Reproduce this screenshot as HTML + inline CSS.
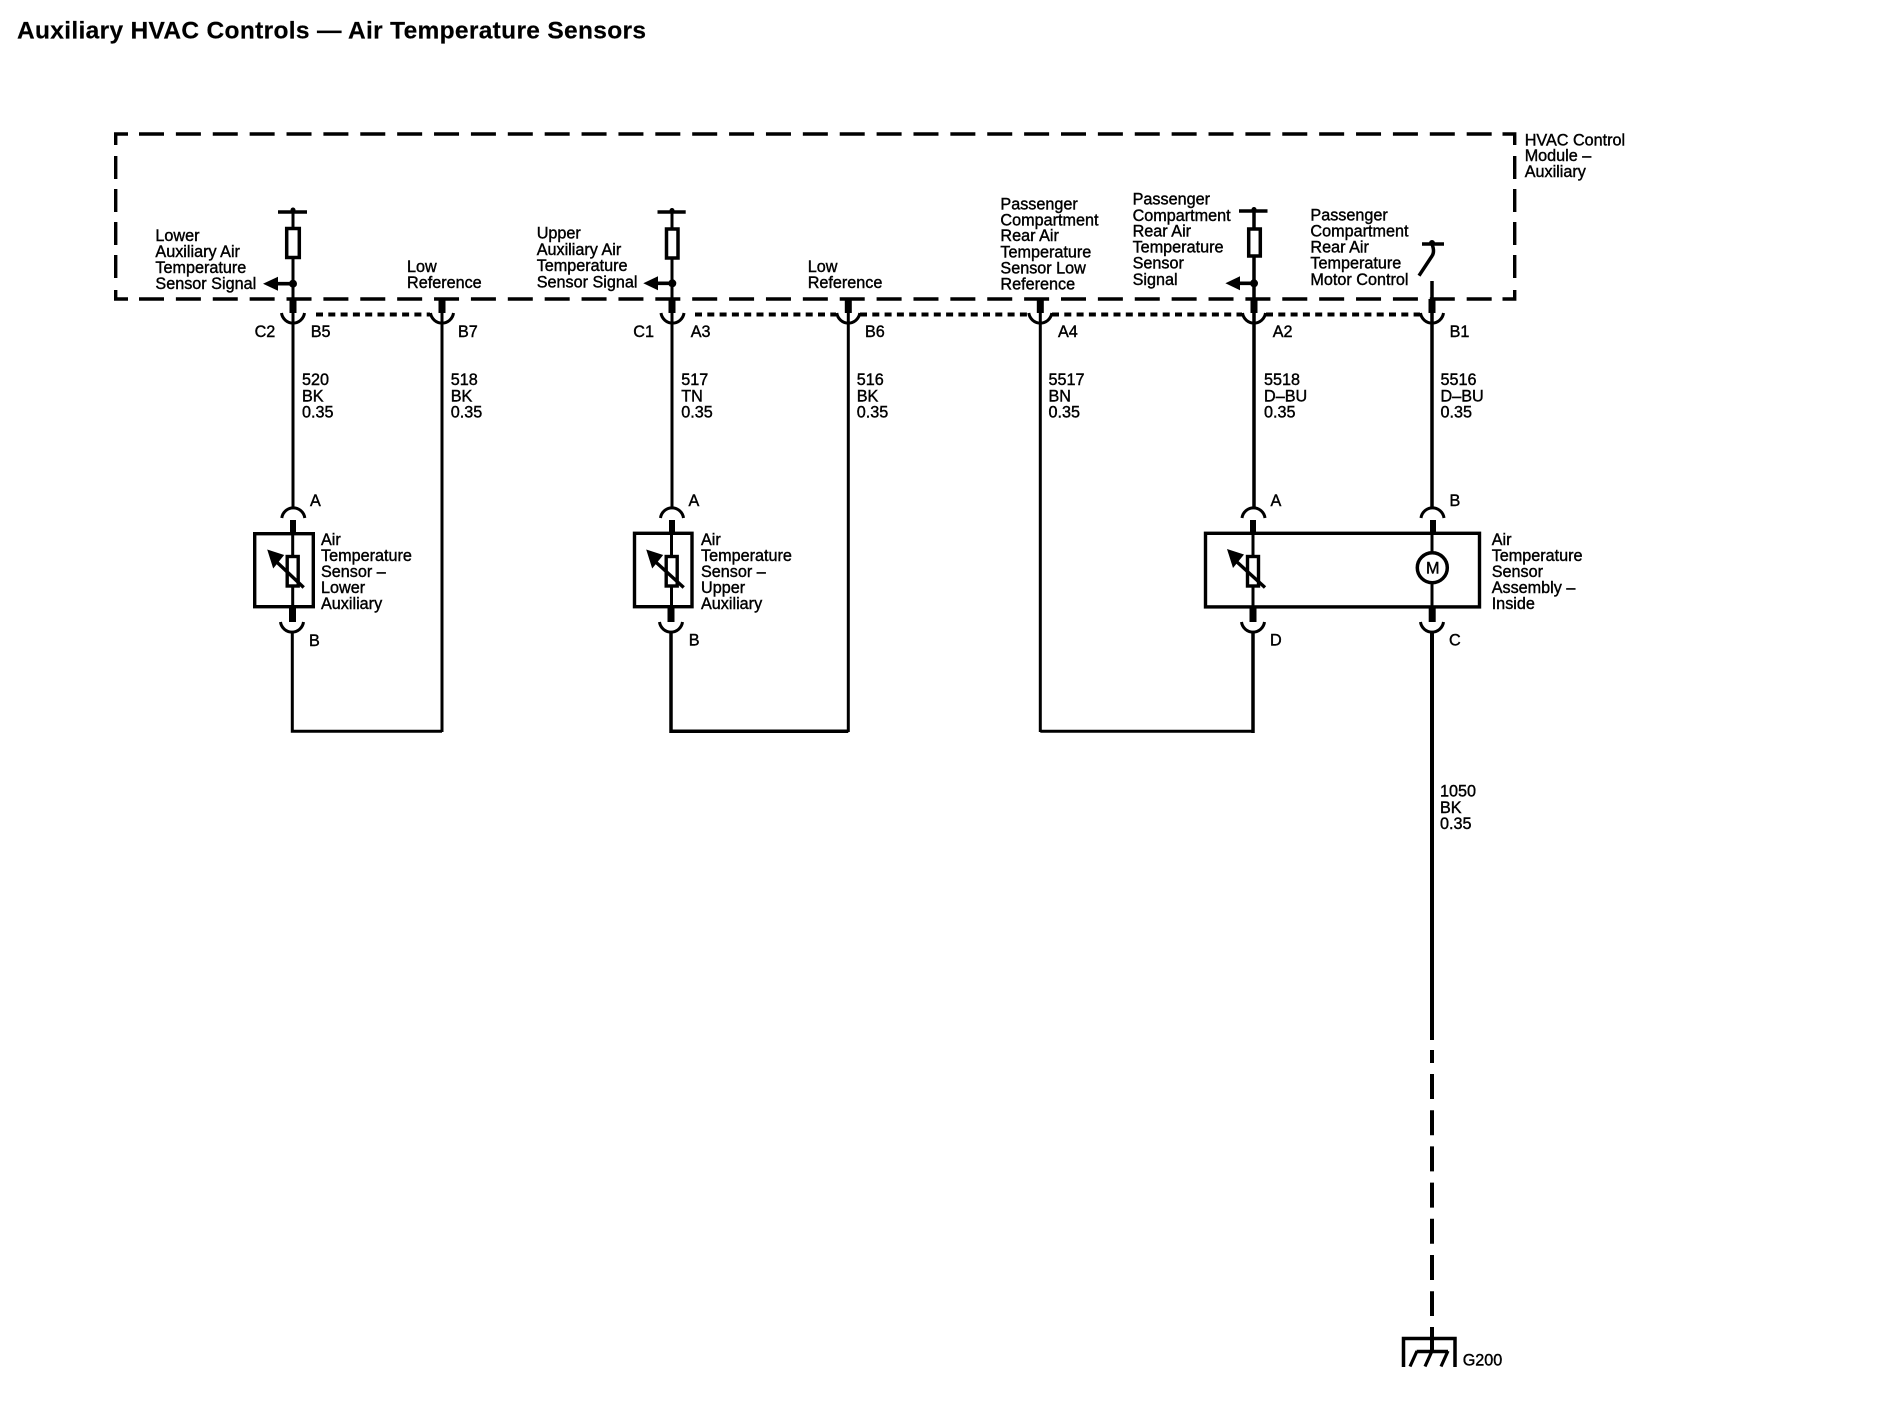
<!DOCTYPE html>
<html>
<head>
<meta charset="utf-8">
<style>
html,body{margin:0;padding:0;background:#fff;width:1892px;height:1408px;overflow:hidden}
svg{display:block}
text{font-family:"Liberation Sans",Arial,sans-serif;font-size:16.2px;fill:#000;stroke:#000;stroke-width:.4px}
.t{font-weight:bold;font-size:24.5px;stroke-width:.2px}
.w{fill:none;stroke:#000;stroke-width:3}
.h{fill:none;stroke:#000;stroke-width:4}
.d{fill:none;stroke:#000;stroke-width:3.4;stroke-dasharray:25 11.88}
.v{fill:none;stroke:#000;stroke-width:3.4;stroke-dasharray:23 10}
.s{fill:none;stroke:#000;stroke-width:4;stroke-dasharray:7 5.3}
.r{fill:#fff;stroke:#000;stroke-width:3.4}
</style>
</head>
<body>
<svg width="1892" height="1408" viewBox="0 0 1892 1408" xmlns="http://www.w3.org/2000/svg">
<rect width="1892" height="1408" fill="#fff"/>
<text class="t" x="17" y="38.7" textLength="629" lengthAdjust="spacing">Auxiliary HVAC Controls — Air Temperature Sensors</text>

<!-- module box -->
<path class="h" style="stroke-width:3.4" d="M128 134H115.7V145M1502.5 134H1514.7V145M115.7 290V299H128M1514.7 290V299H1502.5"/>
<path class="d" d="M139 134H1492M139 299H1492"/>
<path class="v" d="M115.7 156V279M1514.7 156V279"/>

<!-- dotted -->
<path class="s" d="M316 314.5H430M695 314.5H836M860 314.5H1028M1052 314.5H1242M1266 314.5H1420"/>

<!-- vertical wires upper -->
<path class="w" d="M293 209V299M293 313V508"/>
<path class="w" d="M442 313V732"/>
<path class="w" d="M672 209V299M672 313V508"/>
<path class="w" d="M848.3 313V732"/>
<path class="w" d="M1040.3 313V732"/>
<path class="h" style="stroke-width:3.5" d="M1254 209V299M1254 313V508"/>
<path class="h" style="stroke-width:3.5" d="M1432 281V299M1432 313V508"/>

<!-- lower wires -->
<path class="w" d="M292.3 632V731.2H442"/>
<path class="h" style="stroke-width:3.5" d="M671 632V731.2H848.3"/>
<path class="w" d="M1040.3 731.2H1253"/>
<path class="h" style="stroke-width:3.5" d="M1253 632V733"/>
<path class="h" d="M1432 632V1040M1432 1050V1063"/>
<path class="h" style="stroke-dasharray:25 11.2" d="M1432 1074V1316"/>
<path class="h" d="M1432 1327V1352"/>

<!-- top connector stubs -->
<path fill="#000" d="M289.5 299h7v14h-7zM438.5 299h7v14h-7zM668.5 299h7v14h-7zM844.8 299h7v14h-7zM1036.8 299h7v14h-7zM1250.5 299h7v14h-7zM1428.5 299h7v14h-7z"/>
<!-- cups -->
<path class="w" d="M281.5 313A11.6 11.6 0 0 0 304.5 313"/>
<path class="w" d="M430.5 313A11.6 11.6 0 0 0 453.5 313"/>
<path class="w" d="M661 313A11.6 11.6 0 0 0 684 313"/>
<path class="w" d="M836.8 313A11.6 11.6 0 0 0 859.8 313"/>
<path class="w" d="M1028.8 313A11.6 11.6 0 0 0 1051.8 313"/>
<path class="w" d="M1242.5 313A11.6 11.6 0 0 0 1265.5 313"/>
<path class="w" d="M1420.5 313A11.6 11.6 0 0 0 1443.5 313"/>
<!-- component upper arcs -->
<path class="w" d="M281.8 518A11.6 11.6 0 0 1 304.8 518"/>
<path class="w" d="M660.5 518A11.6 11.6 0 0 1 683.5 518"/>
<path class="w" d="M1242 518A11.6 11.6 0 0 1 1265 518"/>
<path class="w" d="M1421 518A11.6 11.6 0 0 1 1444 518"/>
<!-- component lower cups -->
<path class="w" d="M280.5 622A11.6 11.6 0 0 0 303.5 622"/>
<path class="w" d="M659.5 622A11.6 11.6 0 0 0 682.5 622"/>
<path class="w" d="M1241.5 622A11.6 11.6 0 0 0 1264.5 622"/>
<path class="w" d="M1420.5 622A11.6 11.6 0 0 0 1443.5 622"/>

<!-- signal feed tops -->
<path class="h" style="stroke-width:3.5" d="M278 212H307M657.5 212H685.7M1239 211H1267.5"/>
<circle cx="293" cy="210" r="2.5"/><circle cx="672" cy="210.5" r="2.5"/><circle cx="1254" cy="209.5" r="2.5"/>
<rect class="r" style="stroke-width:3.5" x="286.7" y="228.5" width="12.6" height="29"/>
<rect class="r" style="stroke-width:3.5" x="666.5" y="229" width="11.5" height="29"/>
<rect class="r" style="stroke-width:3.5" x="1248.7" y="229" width="11.6" height="27"/>
<circle cx="293" cy="283.7" r="4"/><circle cx="672.3" cy="283.3" r="4"/><circle cx="1254" cy="283.3" r="4"/>
<path class="h" style="stroke-width:3.6" d="M277 283.7H293M656 283.3H672M1238 283.3H1254"/>
<path fill="#000" d="M263 283.7L278 276.7V290.7ZM643.3 283.3L658 276.3V290.3ZM1225.4 283.3L1240 276.3V290.3Z"/>

<!-- switch -->
<path class="h" style="stroke-width:3.5" d="M1422 244H1444"/>
<circle cx="1432" cy="243" r="3"/>
<path class="h" style="stroke-width:3.5" d="M1432 244Q1435 252 1432 256L1419 275.7"/>

<!-- component boxes -->
<rect class="w" style="stroke-width:3.4" x="254.7" y="533.7" width="58.6" height="73"/>
<rect class="w" style="stroke-width:3.4" x="634.5" y="533.3" width="57.5" height="73.4"/>
<rect class="w" style="stroke-width:3.4" x="1205.5" y="533.3" width="274" height="73.6"/>

<!-- component stubs -->
<path fill="#000" d="M290 520h6v14h-6zM669 520h6v14h-6zM1250 520h6v14h-6zM1430 520h6v14h-6zM289 607h7v15h-7zM667.5 607h7v15h-7zM1249.5 607h7v15h-7zM1428.7 607h7v15h-7z"/>
<path class="w" d="M292.7 533V608M671.5 533V608M1253 533V608M1432 533V608"/>

<!-- thermistors -->
<g transform="translate(292.7,0)">
<rect class="r" x="-5.5" y="556.5" width="11" height="29.5"/>
<path class="h" style="stroke-width:3.4" d="M-16 562L11 587.5"/>
<path fill="#000" d="M-25.5 549.5L-8.5 555L-19.5 568.5Z"/>
</g>
<g transform="translate(671.7,0)">
<rect class="r" x="-5.5" y="556.5" width="11" height="29.5"/>
<path class="h" style="stroke-width:3.4" d="M-16 562L12 587.5"/>
<path fill="#000" d="M-25.5 549.5L-8.5 555L-19.5 568.5Z"/>
</g>
<g transform="translate(1253,0)">
<rect class="r" x="-5.5" y="556.5" width="11" height="29.5"/>
<path class="h" style="stroke-width:3.4" d="M-16 562L12 587.5"/>
<path fill="#000" d="M-26 549L-9 554.5L-20 568Z"/>
</g>

<!-- motor -->
<circle cx="1432.3" cy="567.7" r="15" fill="#fff" stroke="#000" stroke-width="3.5"/>
<text x="1426" y="573.3">M</text>

<!-- ground -->
<path class="h" style="stroke-width:3.5" d="M1403.5 1367V1338.5H1455V1367"/>
<path class="h" style="stroke-width:3.5" d="M1416.7 1351.5H1448"/>
<path class="h" style="stroke-width:3.2" d="M1417 1351L1410 1366.5M1432 1351L1425 1366.5M1448 1351L1441 1366.5"/>
<text x="1462.7" y="1365.7">G200</text>

<!-- labels -->
<text x="1524.7" y="145.3">HVAC Control</text>
<text x="1524.7" y="161">Module –</text>
<text x="1524.7" y="177">Auxiliary</text>

<text x="155.4" y="241">Lower</text>
<text x="155.4" y="257">Auxiliary Air</text>
<text x="155.4" y="273">Temperature</text>
<text x="155.4" y="289">Sensor Signal</text>

<text x="407" y="272">Low</text>
<text x="407" y="288">Reference</text>

<text x="536.7" y="238.7">Upper</text>
<text x="536.7" y="255">Auxiliary Air</text>
<text x="536.7" y="271">Temperature</text>
<text x="536.7" y="287.5">Sensor Signal</text>

<text x="807.7" y="272">Low</text>
<text x="807.7" y="288">Reference</text>

<text x="1000.4" y="209.3">Passenger</text>
<text x="1000.4" y="225.5">Compartment</text>
<text x="1000.4" y="241">Rear Air</text>
<text x="1000.4" y="257.3">Temperature</text>
<text x="1000.4" y="273.3">Sensor Low</text>
<text x="1000.4" y="289.5">Reference</text>

<text x="1132.6" y="204.7">Passenger</text>
<text x="1132.6" y="221">Compartment</text>
<text x="1132.6" y="236.7">Rear Air</text>
<text x="1132.6" y="252.7">Temperature</text>
<text x="1132.6" y="268.7">Sensor</text>
<text x="1132.6" y="285">Signal</text>

<text x="1310.4" y="220.7">Passenger</text>
<text x="1310.4" y="236.7">Compartment</text>
<text x="1310.4" y="252.5">Rear Air</text>
<text x="1310.4" y="268.7">Temperature</text>
<text x="1310.4" y="285">Motor Control</text>

<text x="254.6" y="337">C2</text>
<text x="310.7" y="337">B5</text>
<text x="458" y="337">B7</text>
<text x="633.3" y="337">C1</text>
<text x="690.7" y="337">A3</text>
<text x="865" y="337">B6</text>
<text x="1058" y="337">A4</text>
<text x="1272.7" y="337">A2</text>
<text x="1449.6" y="337">B1</text>

<text x="302" y="385">520</text><text x="302" y="401.5">BK</text><text x="302" y="417.7">0.35</text>
<text x="450.7" y="385">518</text><text x="450.7" y="401.5">BK</text><text x="450.7" y="417.7">0.35</text>
<text x="681.3" y="385">517</text><text x="681.3" y="401.5">TN</text><text x="681.3" y="417.7">0.35</text>
<text x="856.7" y="385">516</text><text x="856.7" y="401.5">BK</text><text x="856.7" y="417.7">0.35</text>
<text x="1048.5" y="385">5517</text><text x="1048.5" y="401.5">BN</text><text x="1048.5" y="417.7">0.35</text>
<text x="1264" y="385">5518</text><text x="1264" y="401.5">D–BU</text><text x="1264" y="417.7">0.35</text>
<text x="1440.5" y="385">5516</text><text x="1440.5" y="401.5">D–BU</text><text x="1440.5" y="417.7">0.35</text>

<text x="310" y="506">A</text>
<text x="688.5" y="506">A</text>
<text x="1270.5" y="506">A</text>
<text x="1449.5" y="506">B</text>
<text x="309" y="646">B</text>
<text x="688.7" y="645.5">B</text>
<text x="1270" y="645.5">D</text>
<text x="1449" y="645.5">C</text>

<text x="321" y="545">Air</text>
<text x="321" y="561">Temperature</text>
<text x="321" y="577">Sensor –</text>
<text x="321" y="593">Lower</text>
<text x="321" y="609">Auxiliary</text>

<text x="701" y="545">Air</text>
<text x="701" y="561">Temperature</text>
<text x="701" y="577">Sensor –</text>
<text x="701" y="593">Upper</text>
<text x="701" y="609">Auxiliary</text>

<text x="1491.7" y="545">Air</text>
<text x="1491.7" y="561">Temperature</text>
<text x="1491.7" y="577">Sensor</text>
<text x="1491.7" y="593">Assembly –</text>
<text x="1491.7" y="609">Inside</text>

<text x="1440" y="796.5">1050</text>
<text x="1440" y="813">BK</text>
<text x="1440" y="829">0.35</text>
</svg>
</body>
</html>
